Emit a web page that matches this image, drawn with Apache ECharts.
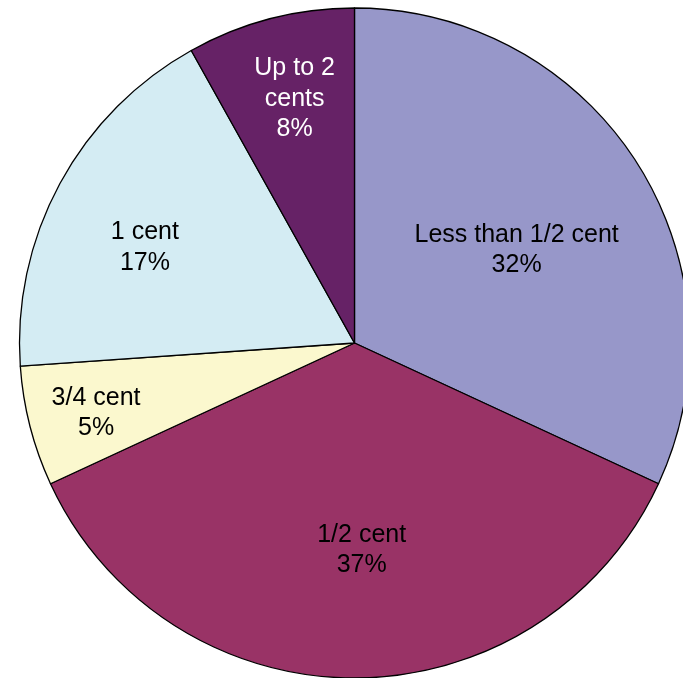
<!DOCTYPE html>
<html>
<head>
<meta charset="utf-8">
<script src="https://cdn.jsdelivr.net/npm/echarts@6/dist/echarts.min.js"></script>
<style>html,body{margin:0;padding:0;background:#fff;}#c{width:683px;height:678px;}</style>
</head>
<body>
<div id="c"></div>
<script>
// Categories (clockwise from 12 o'clock)
const categories = ['Less than 1/2 cent', '1/2 cent', '3/4 cent', '1 cent', 'Up to 2\ncents'];
// Slice sizes (percent of the circle)
const values = [31.9, 36.2, 5.8, 18.0, 8.1];
// Percent labels as printed on the chart
const pctLabels = ['32%', '37%', '5%', '17%', '8%'];

const colors = ['#9797C9', '#993366', '#FBF8CE', '#D4ECF3', '#662266'];
const textColors = ['#000', '#000', '#000', '#000', '#fff'];
// Label placement (polar, relative to pie centre): fraction of radius, and angular shift from slice middle (deg)
const labelRadius = [0.561, 0.612, 0.798, 0.690, 0.756];
const labelAngleShift = [2.2, -2.0, -0.4, -3.5, 0.9];

const CX = 354.5, CY = 343, R = 335;
const total = values.reduce((a, b) => a + b, 0);
const midAngles = [];
let acc = 0;
values.forEach(v => { midAngles.push((acc + v / 2) / total * 2 * Math.PI); acc += v; });

const chart = echarts.init(document.getElementById('c'), null, {renderer: 'canvas'});
chart.setOption({
  animation: false,
  backgroundColor: '#fff',
  series: [{
    type: 'pie',
    center: [CX, CY],
    radius: [0, R],
    startAngle: 90,
    clockwise: true,
    avoidLabelOverlap: false,
    itemStyle: {borderColor: '#000', borderWidth: 1.3},
    label: {
      show: true,
      position: 'inside',
      fontFamily: 'Liberation Sans, Arial, sans-serif',
      fontSize: 25,
      lineHeight: 30.5,
      align: 'center',
      verticalAlign: 'middle',
      formatter: p => categories[p.dataIndex] + '\n' + pctLabels[p.dataIndex]
    },
    labelLine: {show: false},
    emphasis: {disabled: true},
    labelLayout: function (params) {
      const i = params.dataIndex;
      const a = midAngles[i] + labelAngleShift[i] * Math.PI / 180;
      const r = R * labelRadius[i];
      return {
        x: CX + r * Math.sin(a),
        y: CY - r * Math.cos(a) + 2,
        align: 'center',
        verticalAlign: 'middle'
      };
    },
    data: values.map((v, i) => ({
      name: categories[i],
      value: v,
      itemStyle: {color: colors[i]},
      label: {color: textColors[i]}
    }))
  }]
});
</script>
</body>
</html>
